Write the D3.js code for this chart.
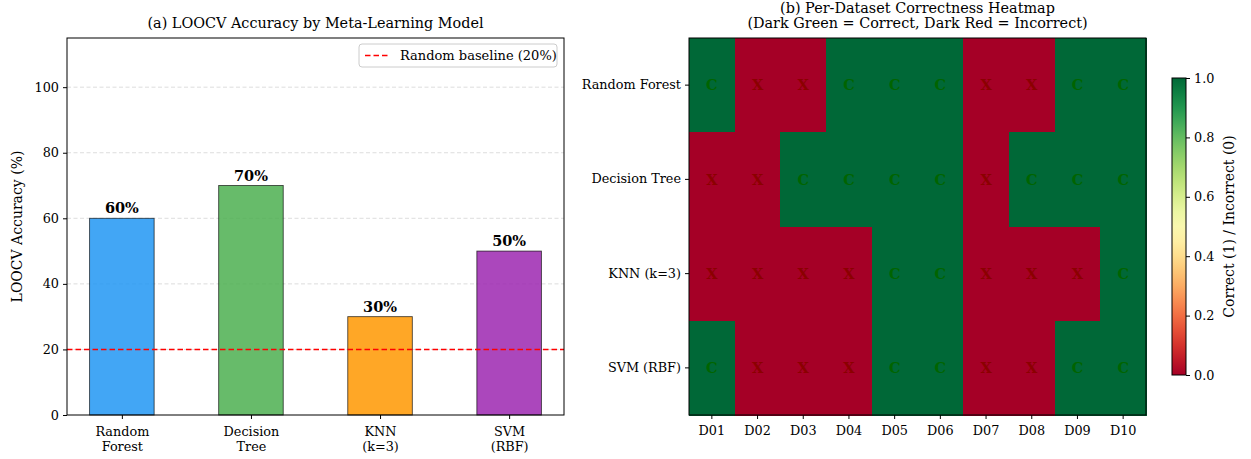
<!DOCTYPE html>
<html>
<head>
<meta charset="utf-8">
<script src="https://cdn.jsdelivr.net/npm/d3@7"></script>
<style>
  html, body { margin: 0; padding: 0; background: #fff; }
  svg { display: block; font-family: "DejaVu Serif", serif; }
</style>
</head>
<body>
<svg id="chart" width="1251" height="459"></svg>
<script>
// ---- data ----
const models = ["Random Forest", "Decision Tree", "KNN (k=3)", "SVM (RBF)"];
const modelTickLines = [["Random", "Forest"], ["Decision", "Tree"], ["KNN", "(k=3)"], ["SVM", "(RBF)"]];
const accuracy = [60, 70, 30, 50];
const barColors = ["#2196F3", "#4CAF50", "#FF9800", "#9C27B0"];
const baseline = 20;
const yTicks = [0, 20, 40, 60, 80, 100];
const datasets = ["D01", "D02", "D03", "D04", "D05", "D06", "D07", "D08", "D09", "D10"];
// 1 = correct, 0 = incorrect (one row per model)
const rfCorrect  = [1, 0, 0, 1, 1, 1, 0, 0, 1, 1];
const dtCorrect  = [0, 0, 1, 1, 1, 1, 0, 1, 1, 1];
const knnCorrect = [0, 0, 0, 0, 1, 1, 0, 0, 0, 1];
const svmCorrect = [1, 0, 0, 0, 1, 1, 0, 0, 1, 1];
const correctness = [rfCorrect, dtCorrect, knnCorrect, svmCorrect];
const cbTicks = [0.0, 0.2, 0.4, 0.6, 0.8, 1.0];

const svg = d3.select("#chart");
const tickFont = 12.8;
const titleFont = 14.4;
const labelFont = 14;

// ================= (a) bar chart =================
const A = { left: 67, right: 564, top: 38, bottom: 415 };
const x = d3.scaleLinear().domain([-0.425, models.length - 1 + 0.425]).range([A.left, A.right]);
const y = d3.scaleLinear().domain([0, 115]).range([A.bottom, A.top]);
const barW = 0.5;

const ga = svg.append("g");

// horizontal grid
ga.append("g").selectAll("line").data(yTicks.filter(d => d > 0)).join("line")
  .attr("x1", A.left).attr("x2", A.right)
  .attr("y1", d => y(d)).attr("y2", d => y(d))
  .attr("stroke", "#b0b0b0").attr("stroke-opacity", 0.55)
  .attr("stroke-width", 0.8).attr("stroke-dasharray", "4,2.5");

// bars
ga.append("g").selectAll("rect").data(accuracy).join("rect")
  .attr("x", (d, i) => x(i - barW / 2))
  .attr("width", (d, i) => x(i + barW / 2) - x(i - barW / 2))
  .attr("y", d => y(d))
  .attr("height", d => y(0) - y(d))
  .attr("fill", (d, i) => barColors[i]).attr("fill-opacity", 0.85)
  .attr("stroke", "#000").attr("stroke-opacity", 0.7).attr("stroke-width", 0.9);

// value labels
ga.append("g").selectAll("text").data(accuracy).join("text")
  .attr("x", (d, i) => x(i))
  .attr("y", d => y(d) - 5)
  .attr("text-anchor", "middle")
  .attr("font-size", 14.5).attr("font-weight", "bold").attr("fill", "#000")
  .text(d => d + "%");

// baseline
ga.append("line")
  .attr("x1", A.left).attr("x2", A.right)
  .attr("y1", y(baseline)).attr("y2", y(baseline))
  .attr("stroke", "#ff0000").attr("stroke-width", 1.6).attr("stroke-dasharray", "5.5,3");

// frame
ga.append("rect")
  .attr("x", A.left).attr("y", A.top)
  .attr("width", A.right - A.left).attr("height", A.bottom - A.top)
  .attr("fill", "none").attr("stroke", "#000").attr("stroke-width", 1);

// y axis
const yAxis = ga.append("g").attr("transform", `translate(${A.left},0)`)
  .call(d3.axisLeft(y).tickValues(yTicks).tickSize(4).tickPadding(4));
yAxis.select(".domain").remove();
yAxis.selectAll("text").attr("font-size", tickFont).attr("font-family", "DejaVu Serif").attr("fill", "#000");
yAxis.selectAll("line").attr("stroke", "#000");

// x axis with two-line labels
const xAxis = ga.append("g").attr("transform", `translate(0,${A.bottom})`)
  .call(d3.axisBottom(x).tickValues(d3.range(models.length)).tickSize(4).tickFormat(""));
xAxis.select(".domain").remove();
xAxis.selectAll("line").attr("stroke", "#000");
xAxis.selectAll(".tick").each(function(d) {
  const t = d3.select(this).append("text")
    .attr("text-anchor", "middle").attr("font-size", tickFont)
    .attr("font-family", "DejaVu Serif").attr("fill", "#000");
  modelTickLines[d].forEach((line, k) => {
    t.append("tspan").attr("x", 0).attr("y", 21 + k * 14.5).text(line);
  });
});

// y label
ga.append("text")
  .attr("transform", `translate(22,${(A.top + A.bottom) / 2}) rotate(-90)`)
  .attr("text-anchor", "middle").attr("font-size", labelFont).attr("fill", "#000")
  .text("LOOCV Accuracy (%)");

// title
ga.append("text")
  .attr("x", (A.left + A.right) / 2).attr("y", 28)
  .attr("text-anchor", "middle").attr("font-size", titleFont).attr("fill", "#000")
  .text("(a) LOOCV Accuracy by Meta-Learning Model");

// legend
const lg = ga.append("g");
lg.append("rect").attr("x", 359).attr("y", 44).attr("width", 198).attr("height", 23)
  .attr("rx", 3).attr("fill", "#fff").attr("fill-opacity", 0.8)
  .attr("stroke", "#ccc").attr("stroke-width", 1);
lg.append("line").attr("x1", 365).attr("x2", 390).attr("y1", 55.5).attr("y2", 55.5)
  .attr("stroke", "#ff0000").attr("stroke-width", 1.6).attr("stroke-dasharray", "5.5,3");
lg.append("text").attr("x", 400).attr("y", 60).attr("font-size", 13).attr("fill", "#000")
  .text("Random baseline (20%)");

// ================= (b) heatmap =================
const B = { left: 689, right: 1146, top: 38, bottom: 415 };
const hx = d3.scaleBand().domain(datasets).range([B.left, B.right]);
const hy = d3.scaleBand().domain(models).range([B.top, B.bottom]);
const cmap = d3.interpolateRdYlGn;

const gb = svg.append("g");
const cells = [];
correctness.forEach((row, r) => row.forEach((v, c) => cells.push({ model: models[r], ds: datasets[c], v })));

gb.append("g").attr("shape-rendering", "crispEdges")
  .selectAll("rect").data(cells).join("rect")
  .attr("x", d => hx(d.ds)).attr("y", d => hy(d.model))
  .attr("width", hx.bandwidth() + 1).attr("height", hy.bandwidth() + 1)
  .attr("fill", d => cmap(d.v));

gb.append("g").selectAll("text").data(cells).join("text")
  .attr("x", d => hx(d.ds) + hx.bandwidth() / 2)
  .attr("y", d => hy(d.model) + hy.bandwidth() / 2)
  .attr("dy", "0.36em")
  .attr("text-anchor", "middle").attr("font-size", 14.5).attr("font-weight", "bold")
  .attr("fill", d => d.v ? "#006400" : "#8B0000")
  .text(d => d.v ? "C" : "X");

gb.append("rect")
  .attr("x", B.left).attr("y", B.top)
  .attr("width", B.right - B.left).attr("height", B.bottom - B.top)
  .attr("fill", "none").attr("stroke", "#000").attr("stroke-width", 1);

const hxAxis = gb.append("g").attr("transform", `translate(0,${B.bottom})`)
  .call(d3.axisBottom(hx).tickSize(4).tickPadding(7));
hxAxis.select(".domain").remove();
hxAxis.selectAll("text").attr("font-size", tickFont).attr("font-family", "DejaVu Serif").attr("fill", "#000");
hxAxis.selectAll("line").attr("stroke", "#000");

const hyAxis = gb.append("g").attr("transform", `translate(${B.left},0)`)
  .call(d3.axisLeft(hy).tickSize(4).tickPadding(4));
hyAxis.select(".domain").remove();
hyAxis.selectAll("text").attr("font-size", tickFont).attr("font-family", "DejaVu Serif").attr("fill", "#000");
hyAxis.selectAll("line").attr("stroke", "#000");

gb.append("text").attr("x", (B.left + B.right) / 2).attr("y", 13)
  .attr("text-anchor", "middle").attr("font-size", titleFont).attr("fill", "#000")
  .text("(b) Per-Dataset Correctness Heatmap");
gb.append("text").attr("x", (B.left + B.right) / 2).attr("y", 28)
  .attr("text-anchor", "middle").attr("font-size", titleFont).attr("fill", "#000")
  .text("(Dark Green = Correct, Dark Red = Incorrect)");

// colorbar
const C = { left: 1172, right: 1186, top: 78, bottom: 375 };
const cy = d3.scaleLinear().domain([0, 1]).range([C.bottom, C.top]);
const defs = svg.append("defs");
const grad = defs.append("linearGradient").attr("id", "cbgrad")
  .attr("x1", 0).attr("y1", 1).attr("x2", 0).attr("y2", 0);
d3.range(0, 1.0001, 0.05).forEach(t => {
  grad.append("stop").attr("offset", t).attr("stop-color", cmap(t));
});
gb.append("rect").attr("x", C.left).attr("y", C.top)
  .attr("width", C.right - C.left).attr("height", C.bottom - C.top)
  .attr("fill", "url(#cbgrad)").attr("stroke", "#000").attr("stroke-width", 1);
const cAxis = gb.append("g").attr("transform", `translate(${C.right},0)`)
  .call(d3.axisRight(cy).tickValues(cbTicks).tickFormat(d3.format(".1f")).tickSize(4).tickPadding(4));
cAxis.select(".domain").remove();
cAxis.selectAll("text").attr("font-size", tickFont).attr("font-family", "DejaVu Serif").attr("fill", "#000");
cAxis.selectAll("line").attr("stroke", "#000");
gb.append("text")
  .attr("transform", `translate(1234,${(C.top + C.bottom) / 2}) rotate(-90)`)
  .attr("text-anchor", "middle").attr("font-size", labelFont).attr("fill", "#000")
  .text("Correct (1) / Incorrect (0)");
</script>
</body>
</html>
